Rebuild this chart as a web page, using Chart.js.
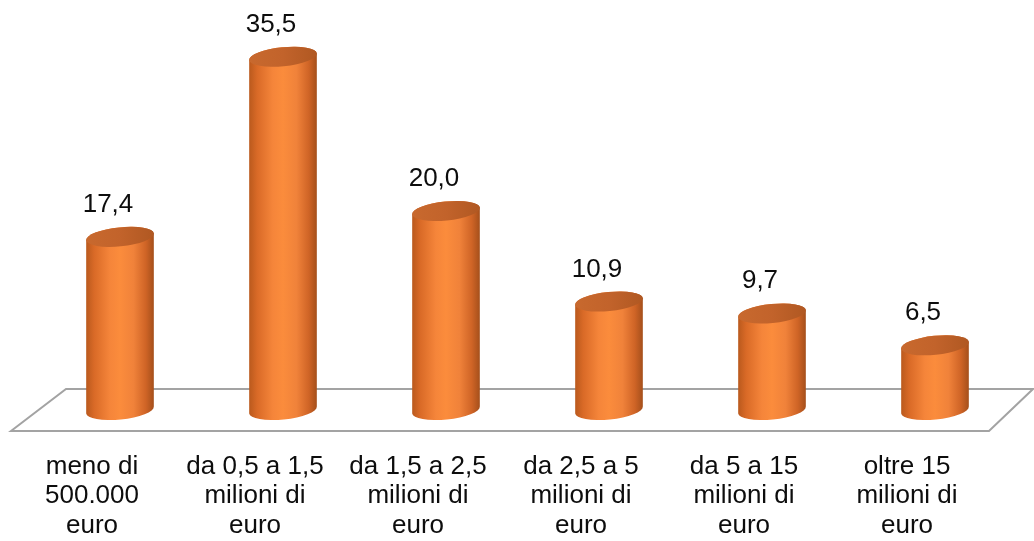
<!DOCTYPE html>
<html>
<head>
<meta charset="utf-8">
<script src="https://cdn.jsdelivr.net/npm/chart.js@4.4.1/dist/chart.umd.min.js"></script>
<style>
  html, body { margin: 0; padding: 0; background: #ffffff; }
  #wrap { width: 1034px; height: 541px; }
</style>
</head>
<body>
<div id="wrap"><canvas id="chart" width="1034" height="541"></canvas></div>
<script>
// Fasce di fatturato
const categories = [
  ["meno di", "500.000", "euro"],
  ["da 0,5 a 1,5", "milioni di", "euro"],
  ["da 1,5 a 2,5", "milioni di", "euro"],
  ["da 2,5 a 5", "milioni di", "euro"],
  ["da 5 a 15", "milioni di", "euro"],
  ["oltre 15", "milioni di", "euro"]
];
// Quote percentuali
const values = [17.4, 35.5, 20.0, 10.9, 9.7, 6.5];
const yMin = 0;
const yMax = 40;

const fmt = v => v.toFixed(1).replace('.', ',');

// Floor parallelogram under the cylinders, drawn around the zero line
const floorPlugin = {
  id: 'floor3d',
  beforeDatasetsDraw(chart) {
    const { ctx, chartArea } = chart;
    const y0 = chart.scales.y.getPixelForValue(0);
    const depth = 21;
    ctx.save();
    ctx.beginPath();
    ctx.moveTo(chartArea.left - 27.5, y0 + depth);
    ctx.lineTo(chartArea.left + 27.5, y0 - depth);
    ctx.lineTo(chartArea.right + 16.5, y0 - depth);
    ctx.lineTo(chartArea.right - 27.5, y0 + depth);
    ctx.closePath();
    ctx.fillStyle = '#ffffff';
    ctx.fill();
    ctx.strokeStyle = '#a3a3a3';
    ctx.lineWidth = 2;
    ctx.stroke();
    ctx.restore();
  }
};

// Cylinders and value labels drawn from each bar element's geometry
const cylinderPlugin = {
  id: 'cylinders',
  afterDatasetsDraw(chart) {
    const { ctx } = chart;
    const meta = chart.getDatasetMeta(0);
    const ry = 9.5;
    const rot = -0.1;
    meta.data.forEach((bar, i) => {
      const { x, y, base, width } = bar.getProps(['x', 'y', 'base', 'width'], true);
      const rx = width / 2;
      ctx.save();
      // body
      const g = ctx.createLinearGradient(x - rx, 0, x + rx, 0);
      g.addColorStop(0, '#b9591d');
      g.addColorStop(0.12, '#d96a27');
      g.addColorStop(0.35, '#f5853a');
      g.addColorStop(0.5, '#fb8c3c');
      g.addColorStop(0.7, '#f0823a');
      g.addColorStop(0.88, '#cf6426');
      g.addColorStop(1, '#a44f1b');
      ctx.beginPath();
      ctx.ellipse(x, y, rx, ry, rot, Math.PI, 2 * Math.PI);
      ctx.ellipse(x, base, rx, ry, rot, 0, Math.PI);
      ctx.closePath();
      ctx.fillStyle = g;
      ctx.fill();
      // top cap
      const gt = ctx.createLinearGradient(x - rx, 0, x + rx, 0);
      gt.addColorStop(0, '#c8692e');
      gt.addColorStop(0.5, '#c2632b');
      gt.addColorStop(1, '#b05822');
      ctx.beginPath();
      ctx.ellipse(x, y, rx, ry, rot, 0, 2 * Math.PI);
      ctx.fillStyle = gt;
      ctx.fill();
      ctx.restore();

      // value label
      ctx.save();
      ctx.font = '26px "Liberation Sans", Arial, sans-serif';
      ctx.fillStyle = '#0d0d0d';
      ctx.textAlign = 'center';
      ctx.textBaseline = 'alphabetic';
      ctx.fillText(fmt(values[i]), x - 12, y - 25);
      ctx.restore();
    });
  }
};

new Chart(document.getElementById('chart'), {
  type: 'bar',
  data: {
    labels: categories,
    datasets: [{
      data: values,
      backgroundColor: 'rgba(0,0,0,0)',
      borderWidth: 0,
      categoryPercentage: 1,
      barPercentage: 0.417
    }]
  },
  options: {
    responsive: false,
    devicePixelRatio: 1,
    animation: false,
    layout: { padding: { left: 38.5, right: 17.5, top: 12, bottom: 0 } },
    plugins: { legend: { display: false }, tooltip: { enabled: false } },
    scales: {
      x: {
        grid: { display: false, drawTicks: false },
        border: { display: false },
        ticks: {
          padding: 42,
          labelOffset: -28,
          maxRotation: 0,
          autoSkip: false,
          color: '#0d0d0d',
          font: { family: '"Liberation Sans", Arial, sans-serif', size: 26, lineHeight: 1.135 }
        },
        afterFit(scale) { scale.height = 131; }
      },
      y: {
        display: false,
        min: yMin,
        max: yMax
      }
    }
  },
  plugins: [floorPlugin, cylinderPlugin]
});
</script>
</body>
</html>
